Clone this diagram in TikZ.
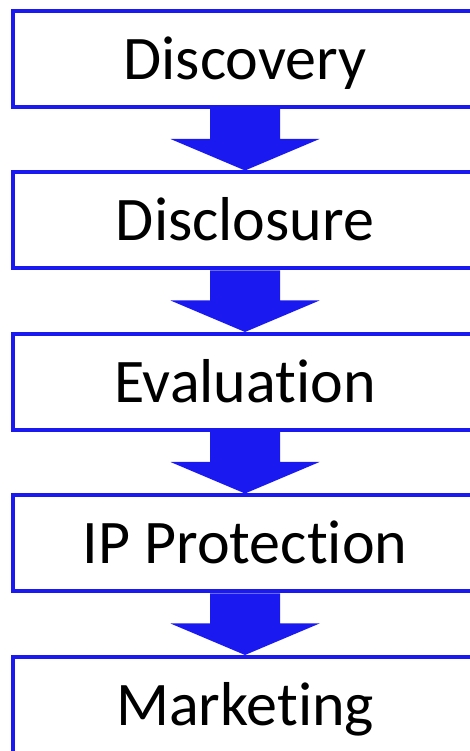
\documentclass[tikz,border=0pt]{standalone}
\usepackage{fontspec}
\setmainfont{Carlito}[Ligatures={NoCommon,NoContextual,NoRequired}]
\usetikzlibrary{calc}
\definecolor{flowblue}{RGB}{26,26,240}
\tikzset{
  stepbox/.style={draw=flowblue, line width=4pt, fill=white, minimum width=464pt, minimum height=96pt, inner sep=0pt, text height=41pt, text depth=0pt, font=\fontsize{62}{70}\selectfont, text=black, anchor=center},
}
\newcommand{\flowarrow}[2]{%
  \fill[flowblue] ($(#1.south)+(-35pt,0)$) -- ($(#1.south)+(35pt,0)$) -- ($(#1.south)+(35pt,-30pt)$) -- ($(#1.south)+(74.5pt,-30pt)$) -- (#2.north) -- ($(#1.south)+(-74.5pt,-30pt)$) -- ($(#1.south)+(-35pt,-30pt)$) -- cycle;}
\begin{document}
\begin{tikzpicture}[x=1pt,y=1pt]
\useasboundingbox (0,0) rectangle (470,751);
\clip (0,0) rectangle (470,751);
\node[stepbox] (b1) at (245,692) {Discovery};
\node[stepbox] (b2) at (245,530.5) {Disclosure};
\node[stepbox] (b3) at (245,369) {Evaluation};
\node[stepbox] (b4) at (245,207.5) {IP Protection};
\node[stepbox] (b5) at (245,46) {Marketing};
\flowarrow{b1}{b2}
\flowarrow{b2}{b3}
\flowarrow{b3}{b4}
\flowarrow{b4}{b5}
\end{tikzpicture}
\end{document}
